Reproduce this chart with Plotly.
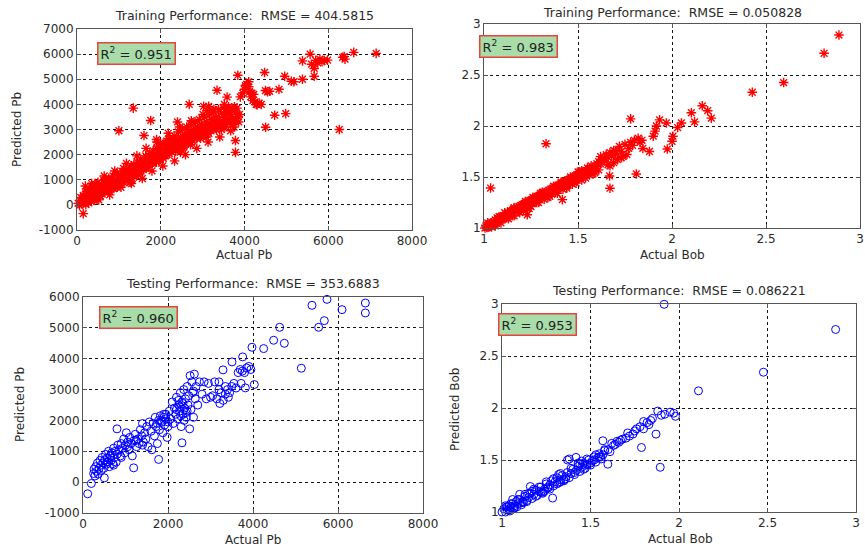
import plotly.graph_objects as go

# ---------------- DATA ----------------
# Training Pb (actual, predicted)
train_pb_actual = [30,60,90,120,150,160,180,200,210,230,250,270,280,300,310,330,350,360,380,400,410,430,440,460,480,500,510,530,550,570,590,600,
    620,640,660,680,700,720,740,760,780,800,820,840,860,880,900,920,940,960,980,1000,1000,1020,1040,1060,1080,1100,1120,1140,1160,1180,1200,
    1220,1240,1260,1280,1300,1320,1344,1340,1360,1380,1400,1420,1440,1460,1480,1500,1520,1540,1560,1580,1600,1600,1620,1640,1660,1680,1700,1720,1740,1760,1760,1780,1800,1820,1840,1860,1880,1900,1920,1940,1960,1980,2000,
    2020,2040,2060,2080,2100,2120,2140,2160,2180,2200,2220,2240,2260,2280,2300,2320,2340,2360,2380,2400,2420,2440,2460,2480,2500,2520,2540,2560,2580,2600,2620,2640,2660,2680,2680,2700,2720,2740,2760,2780,2800,
    2820,2840,2860,2880,2900,2920,2940,2960,2980,3000,3024,3040,3060,3080,3100,3120,3144,3160,3180,3200,3220,3240,3260,3280,3300,3320,3344,3350,3380,3400,3420,3450,3480,3500,3520,3550,3580,3584,3600,3620,3650,3680,3700,3720,3750,3760,3784,3784,3790,3800,3820,3850,3840,
    3900,3960,4000,4020,4050,4100,4100,4120,4150,4180,4200,4220,4250,4280,4304,4350,4400,4480,4504,4500,4550,4600,4720,4824,4960,4984,
    5120,5180,5384,5384,5568,5600,5664,5664,5700,5750,5800,5850,5900,5984,6264,6344,6400,6380,6608,7144,
    150,260,420,520,700,880,1150,1300,1450,1700,1900,2150,2350,2550,2750,2950,3150,3450,3650,3700,3560,3880,
    90,240,380,560,760,960,1110,1270,1530,1820,2060,2290,2470,2710,2890,3090,3330,3530,3610,3730,
    200,350,520,650,780,900,1050,1180,1300,1430,1560,1650,1790,1910,2050,2180,2330,2450,2590,2730,2860,3010,3130,3270,3410,3520,3670,3860,1900,2400,3100]
train_pb_pred = [60,-20,150,40,-350,280,120,330,10,520,200,410,80,620,280,150,450,700,320,540,180,820,380,620,260,900,480,700,350,560,820,430,
    650,980,520,760,600,880,700,1060,540,820,950,680,1150,800,1000,720,900,1240,860,2950,1050,780,1180,960,1320,1080,880,1250,1040,1400,1150,
    980,1300,1120,1480,1220,1050,3850,1380,1600,1250,1450,1150,1700,1380,1550,1300,1820,1480,1650,1400,2760,1750,1550,1950,1480,1700,1850,1600,2050,3360,1750,1950,1650,2150,1850,2000,1750,2250,1950,2100,1800,2350,2000,
    2200,1900,2450,2100,2300,1950,2550,2200,2400,2050,2650,2300,2100,2500,2250,2750,2400,2150,2600,2350,2900,2500,2250,2700,2450,3000,2600,2350,2800,2550,3100,2700,2450,4000,2900,2650,3200,2800,2550,3000,2750,
    3300,2900,2650,3100,2850,3400,3000,2750,3200,2950,3920,3500,3100,2850,3300,3050,3920,3600,3200,2950,3400,3100,3700,3300,3050,3500,4560,3200,3800,3400,3100,3650,3300,3850,3500,3200,3700,4290,3400,3900,3600,3300,3750,3450,3100,3900,2560,2090,3350,3700,3850,3500,5160,
    4300,4450,4600,4750,4800,4900,4700,4500,4300,4450,4150,4400,4100,4000,3990,4050,4000,5270,3090,4550,4500,4520,3570,4600,5120,3630,
    4920,4900,5000,5730,6000,5600,5430,5120,5750,5650,5800,5700,5750,5760,3000,5870,5800,5900,6070,6030,
    380,150,250,650,900,650,1000,1550,1200,1500,1700,2000,2150,2300,2600,2650,2850,3000,3300,3850,3800,3600,
    300,550,700,350,1000,700,1450,900,1350,1700,1850,2450,2100,2400,3050,2700,3000,3100,3700,3200,
    750,850,200,1150,400,1350,700,1650,850,1950,1050,2250,1350,2500,1550,2850,1750,3100,2000,3350,2250,3600,2500,3800,2700,4000,2950,3300,2600,3300,3750]

# Training Bob (actual, predicted)
train_bob_actual = [1.005,1.01,1.015,1.02,1.025,1.03,1.035,1.035,1.04,1.045,1.05,1.055,1.06,1.065,1.07,1.075,1.08,1.085,1.09,1.095,1.10,1.105,1.11,1.115,1.12,1.125,1.13,1.135,1.14,1.145,1.15,1.155,1.16,1.165,1.17,1.175,1.18,1.185,1.19,1.195,
    1.20,1.205,1.21,1.215,1.22,1.225,1.23,1.23,1.235,1.24,1.245,1.25,1.255,1.26,1.265,1.27,1.275,1.28,1.285,1.29,1.295,1.30,1.305,1.31,1.315,1.32,1.325,1.33,1.33,1.335,1.34,1.345,1.35,1.355,1.36,1.365,1.37,1.375,1.38,1.385,1.39,1.395,
    1.40,1.405,1.41,1.417,1.415,1.42,1.425,1.43,1.435,1.44,1.445,1.45,1.455,1.46,1.465,1.47,1.475,1.48,1.485,1.49,1.495,1.50,1.505,1.51,1.52,1.53,1.54,1.55,1.56,1.57,1.58,1.59,1.60,
    1.61,1.62,1.63,1.64,1.65,1.66,1.67,1.668,1.67,1.68,1.69,1.70,1.72,1.73,1.75,1.77,1.78,1.78,1.80,1.81,1.82,1.83,1.84,1.845,1.88,1.90,1.91,1.917,1.934,1.97,1.975,2.0,2.005,2.03,2.05,2.103,2.12,2.161,2.19,2.209,2.427,2.594,2.809,2.888,
    1.06,1.12,1.18,1.25,1.32,1.38,1.44,1.52,1.58,1.62,1.66,1.71,1.74,1.52,1.47,1.35,1.28,1.16,
    1.08,1.14,1.21,1.27,1.31,1.36,1.43,1.48,1.55,1.61,1.64,1.69,1.76,1.79,
    1.02,1.04,1.07,1.09,1.11,1.13,1.16,1.19,1.22,1.24,1.26,1.29,1.31,1.34,1.37,1.39,1.41,1.44,1.46,1.49,1.51,1.54,1.57,1.59,1.63,1.67,1.70,1.73,1.06,1.15,1.23,1.30,1.42,1.50,1.56]
train_bob_pred = [1.0,1.02,1.005,1.03,1.01,1.04,1.392,1.02,1.05,1.03,1.06,1.04,1.08,1.05,1.07,1.09,1.06,1.10,1.08,1.11,1.09,1.12,1.10,1.14,1.11,1.13,1.15,1.12,1.16,1.14,1.17,1.15,1.19,1.16,1.18,1.20,1.17,1.21,1.19,1.22,
    1.20,1.23,1.21,1.24,1.22,1.25,1.13,1.23,1.26,1.24,1.27,1.25,1.28,1.26,1.29,1.27,1.30,1.28,1.31,1.29,1.32,1.30,1.33,1.31,1.34,1.32,1.35,1.826,1.33,1.36,1.34,1.37,1.35,1.38,1.36,1.39,1.37,1.40,1.38,1.41,1.39,1.42,
    1.40,1.43,1.41,1.278,1.44,1.42,1.45,1.43,1.46,1.44,1.47,1.45,1.48,1.46,1.49,1.47,1.50,1.48,1.51,1.49,1.52,1.51,1.53,1.50,1.54,1.52,1.56,1.54,1.58,1.56,1.60,1.58,1.63,
    1.65,1.63,1.68,1.66,1.72,1.69,1.39,1.51,1.74,1.71,1.76,1.73,1.80,1.75,1.82,1.78,2.07,1.84,1.86,1.53,1.88,1.84,1.86,1.78,1.75,1.90,1.95,2.0,2.06,2.03,1.774,1.85,1.90,1.985,2.03,2.13,2.04,2.198,2.15,2.077,2.331,2.426,2.713,2.892,
    1.04,1.10,1.16,1.21,1.28,1.35,1.40,1.47,1.53,1.70,1.62,1.67,1.70,1.56,1.43,1.31,1.25,1.12,
    1.11,1.17,1.18,1.29,1.34,1.33,1.46,1.45,1.59,1.57,1.68,1.64,1.72,1.81,
    1.05,1.01,1.10,1.05,1.15,1.09,1.20,1.15,1.26,1.19,1.30,1.25,1.35,1.30,1.41,1.34,1.45,1.39,1.50,1.44,1.55,1.49,1.61,1.54,1.67,1.61,1.75,1.69,1.02,1.12,1.19,1.34,1.38,1.55,1.52]

# Testing Pb (actual, predicted)
test_pb_actual = [110,196,250,260,280,300,320,340,360,380,400,420,430,450,470,490,502,510,530,550,570,590,600,620,640,660,680,700,720,740,760,780,800,800,820,850,880,900,930,960,980,1000,
    1020,1050,1080,1100,1130,1160,1192,1200,1230,1260,1290,1320,1350,1380,1400,1420,1450,1480,1500,1530,1560,1600,1620,1650,1680,1700,1720,1750,1780,1780,1800,1820,1850,1880,1900,1920,1950,1980,2000,
    2030,2060,2100,2120,2150,2180,2200,2230,2250,2270,2290,2310,2329,2330,2350,2370,2390,2410,2430,2450,2470,2490,2510,2520,2540,2560,2580,2600,2620,2640,2660,2700,2740,2800,2850,2900,2950,3000,3050,3100,3150,3200,3220,3250,3294,3300,3350,3400,3420,3450,3506,3500,3550,3600,3650,3700,3720,3757,3750,3800,3820,3850,3900,3950,3976,4031,4251,4486,4627,4737,5137,5388,5545,5678,5741,6094,6643,6643,
    2200,2280,2350,2420,2380,2300,2250,1850,1900,1750,2000,1950,650,560,720,900,1050,1250,1400,3200,3350,2600,2450]
test_pb_pred = [-378,-43,280,420,200,500,350,620,260,450,700,550,380,800,620,450,140,720,900,580,780,650,1000,500,850,700,950,600,1100,800,1000,650,1727,900,1200,1050,850,1250,1100,1400,950,1200,
    1600,1300,1050,1450,1250,850,464,1350,1550,1150,1400,1250,1700,1500,1900,1300,1600,1400,1800,1150,1950,1650,1050,1900,1500,2100,1800,1250,736,2000,1700,2150,1950,1600,2200,1850,2050,1450,1800,
    2300,2050,2600,1900,2400,2200,2750,2050,2500,2300,2900,1800,1275,2600,2200,3000,2400,2700,2100,3100,2500,2800,1727,3450,2350,3250,2900,2100,3500,2700,3100,2500,3250,2850,3250,2700,3200,2750,2800,3250,2700,3250,2550,2900,3638,2650,3100,3000,2750,2900,3896,3100,3200,3050,3550,3650,3200,4058,3600,3550,3055,3700,3750,3650,4371,3163,4328,4598,5018,4500,3691,5730,5018,5234,5924,5590,5806,5482,
    2350,2450,2550,2250,2000,2150,2650,2000,2100,1900,1950,2200,850,650,550,800,1150,1350,1200,3000,2850,2950,2300]

# Testing Bob (actual, predicted)
test_bob_actual = [1.0,1.01,1.02,1.025,1.03,1.04,1.045,1.05,1.06,1.065,1.07,1.08,1.085,1.09,1.10,1.10,1.11,1.12,1.13,1.14,1.15,1.16,1.16,1.17,1.18,1.19,1.20,1.21,1.22,1.23,1.24,1.25,1.26,1.27,1.286,1.28,1.29,1.30,
    1.31,1.32,1.33,1.34,1.35,1.36,1.37,1.37,1.38,1.38,1.39,1.40,1.41,1.418,1.42,1.43,1.44,1.45,1.46,1.47,1.48,1.49,1.50,1.51,1.52,1.53,1.54,1.55,1.56,1.57,1.57,1.58,1.598,1.60,
    1.62,1.64,1.65,1.66,1.67,1.68,1.70,1.71,1.72,1.74,1.75,1.76,1.78,1.788,1.80,1.80,1.82,1.83,1.84,1.85,1.87,1.88,1.894,1.90,1.916,1.92,1.95,1.97,1.98,2.11,2.477,2.885,
    1.03,1.07,1.12,1.15,1.22,1.26,1.33,1.36,1.44,1.47,1.52,1.55,1.61,1.63,
    1.02,1.04,1.05,1.07,1.09,1.11,1.13,1.14,1.17,1.19,1.21,1.23,1.25,1.27,1.29,1.31,1.33,1.35,1.39,1.41,1.43,1.46,1.48,1.50,1.53,1.56,1.58,1.06,1.18,1.24,1.32,1.45]
test_bob_pred = [1.0,1.03,1.0,1.05,1.02,1.06,1.01,1.04,1.08,1.03,1.06,1.10,1.05,1.08,1.17,1.12,1.07,1.10,1.15,1.11,1.14,1.245,1.18,1.13,1.17,1.21,1.16,1.20,1.24,1.19,1.22,1.27,1.23,1.26,1.134,1.30,1.25,1.29,
    1.33,1.28,1.31,1.35,1.30,1.34,1.38,1.50,1.33,1.51,1.37,1.41,1.36,1.525,1.40,1.44,1.39,1.43,1.47,1.42,1.46,1.50,1.45,1.49,1.53,1.48,1.52,1.56,1.51,1.685,1.55,1.59,1.46,1.60,
    1.66,1.65,1.68,1.67,1.69,1.70,1.71,1.76,1.73,1.75,1.78,1.80,1.82,1.62,1.80,1.87,1.86,1.84,1.88,1.90,1.749,1.97,1.43,1.93,2.997,1.94,1.96,1.95,1.92,2.165,2.344,2.755,
    1.05,1.04,1.09,1.18,1.19,1.24,1.29,1.32,1.46,1.45,1.50,1.53,1.58,1.64,
    1.06,1.02,1.08,1.04,1.12,1.09,1.17,1.10,1.20,1.15,1.24,1.18,1.29,1.22,1.32,1.27,1.37,1.31,1.42,1.38,1.47,1.41,1.51,1.47,1.55,1.53,1.60,1.12,1.22,1.20,1.36,1.49]

titles = ["Training Performance:\u00a0\u00a0RMSE = 404.5815",
          "Training Performance:\u00a0\u00a0RMSE = 0.050828",
          "Testing Performance:\u00a0\u00a0RMSE = 353.6883",
          "Testing Performance:\u00a0\u00a0RMSE = 0.086221"]
r2_labels = ["R<sup>2</sup> = 0.951", "R<sup>2</sup> = 0.983", "R<sup>2</sup> = 0.960", "R<sup>2</sup> = 0.953"]
pb_ticks_train_y = [-1000, 0, 1000, 2000, 3000, 4000, 5000, 6000, 7000]
pb_ticks_test_y = [-1000, 0, 1000, 2000, 3000, 4000, 5000, 6000]
pb_ticks_x = [0, 2000, 4000, 6000, 8000]
bob_ticks = [1, 1.5, 2, 2.5, 3]

# ---------------- FIGURE ----------------
W, H = 865, 549
FONT = "DejaVu Sans"
TXT = "#2a2a2a"
RED = "#ff0000"
BLUE = "#0000ff"

def px_x(p):
    return p / W

def px_y(p):
    return 1 - p / H

# plot boxes in pixels: (left, right, top, bottom)
boxes = [(77, 412, 29, 230), (484, 860, 24, 228), (83, 423, 297, 513), (502, 856, 304, 512)]

fig = go.Figure()

star = dict(symbol="asterisk-open", size=8, color=RED, line=dict(color=RED, width=1.4))
ring = dict(symbol="circle-open", size=8, color=BLUE, line=dict(color=BLUE, width=1.0))
fig.add_trace(go.Scatter(x=train_pb_actual, y=train_pb_pred, mode="markers", xaxis="x", yaxis="y",
                         marker=star, cliponaxis=False, showlegend=False, hoverinfo="skip"))
fig.add_trace(go.Scatter(x=train_bob_actual, y=train_bob_pred, mode="markers", xaxis="x2", yaxis="y2",
                         marker=star, cliponaxis=False, showlegend=False, hoverinfo="skip"))
fig.add_trace(go.Scatter(x=test_pb_actual, y=test_pb_pred, mode="markers", xaxis="x3", yaxis="y3",
                         marker=ring, cliponaxis=False, showlegend=False, hoverinfo="skip"))
fig.add_trace(go.Scatter(x=test_bob_actual, y=test_bob_pred, mode="markers", xaxis="x4", yaxis="y4",
                         marker=ring, cliponaxis=False, showlegend=False, hoverinfo="skip"))

def ax(domain, rng, ticks, anchor):
    return dict(domain=domain, range=rng, tickvals=ticks, ticktext=[("%g" % t) for t in ticks],
                anchor=anchor, automargin=False, showgrid=True, gridcolor="#111111", gridwidth=1,
                griddash="3px,3px", zeroline=False, showline=True, linecolor="#555555", linewidth=1,
                mirror="ticks", ticks="inside", ticklen=4, tickcolor="#555555",
                tickfont=dict(family=FONT, size=12, color=TXT), fixedrange=True)

ranges = [((0, 8000), pb_ticks_x, (-1000, 7000), pb_ticks_train_y),
          ((1, 3), bob_ticks, (1, 3), bob_ticks),
          ((0, 8000), pb_ticks_x, (-1000, 6000), pb_ticks_test_y),
          ((1, 3), bob_ticks, (1, 3), bob_ticks)]

layout = dict(width=W, height=H, margin=dict(l=0, r=0, t=0, b=0, pad=0), autosize=False,
              paper_bgcolor="white", plot_bgcolor="white", showlegend=False, template="none")
for i, (b, r) in enumerate(zip(boxes, ranges)):
    n = "" if i == 0 else str(i + 1)
    xd = [px_x(b[0]), px_x(b[1])]
    yd = [px_y(b[3]), px_y(b[2])]
    layout["xaxis" + n] = ax(xd, list(r[0]), r[1], "y" + n)
    layout["yaxis" + n] = ax(yd, list(r[2]), r[3], "x" + n)
fig.update_layout(**layout)

annotations = []
title_pos = [(244, 15), (672, 12), (253, 283), (679, 290)]
for t, (cx, cy) in zip(titles, title_pos):
    annotations.append(dict(text=t, x=px_x(cx), y=px_y(cy), xref="paper", yref="paper",
                            xanchor="center", yanchor="middle", showarrow=False,
                            font=dict(family=FONT, size=12.5, color=TXT)))

xlabels = [("Actual Pb", 244, 255), ("Actual Bob", 672, 255), ("Actual Pb", 253, 540), ("Actual Bob", 680, 539)]
for t, cx, cy in xlabels:
    annotations.append(dict(text=t, x=px_x(cx), y=px_y(cy), xref="paper", yref="paper",
                            xanchor="center", yanchor="middle", showarrow=False,
                            font=dict(family=FONT, size=12, color=TXT)))

ylabels = [("Predicted Pb", 17, 130), ("Predicted Pb", 20, 405), ("Predicted Bob", 455, 410)]
for t, cx, cy in ylabels:
    annotations.append(dict(text=t, x=px_x(cx), y=px_y(cy), xref="paper", yref="paper",
                            xanchor="center", yanchor="middle", showarrow=False, textangle=-90,
                            font=dict(family=FONT, size=12, color=TXT)))

r2_pos = [(97, 42), (479, 35), (99, 306), (498, 313)]
for t, (lx, ty) in zip(r2_labels, r2_pos):
    annotations.append(dict(text=t, x=px_x(lx), y=px_y(ty), xref="paper", yref="paper",
                            xanchor="left", yanchor="top", showarrow=False, align="left",
                            width=72, height=16, borderpad=2,
                            bgcolor="#a8dca8", bordercolor="#e8443c", borderwidth=1.5,
                            font=dict(family=FONT, size=13, color="#222222")))

fig.update_layout(annotations=annotations)
fig.write_html("out.html", config={"displayModeBar": False, "staticPlot": True},
               post_script="document.body.style.margin='0px';document.body.style.overflow='hidden';")
